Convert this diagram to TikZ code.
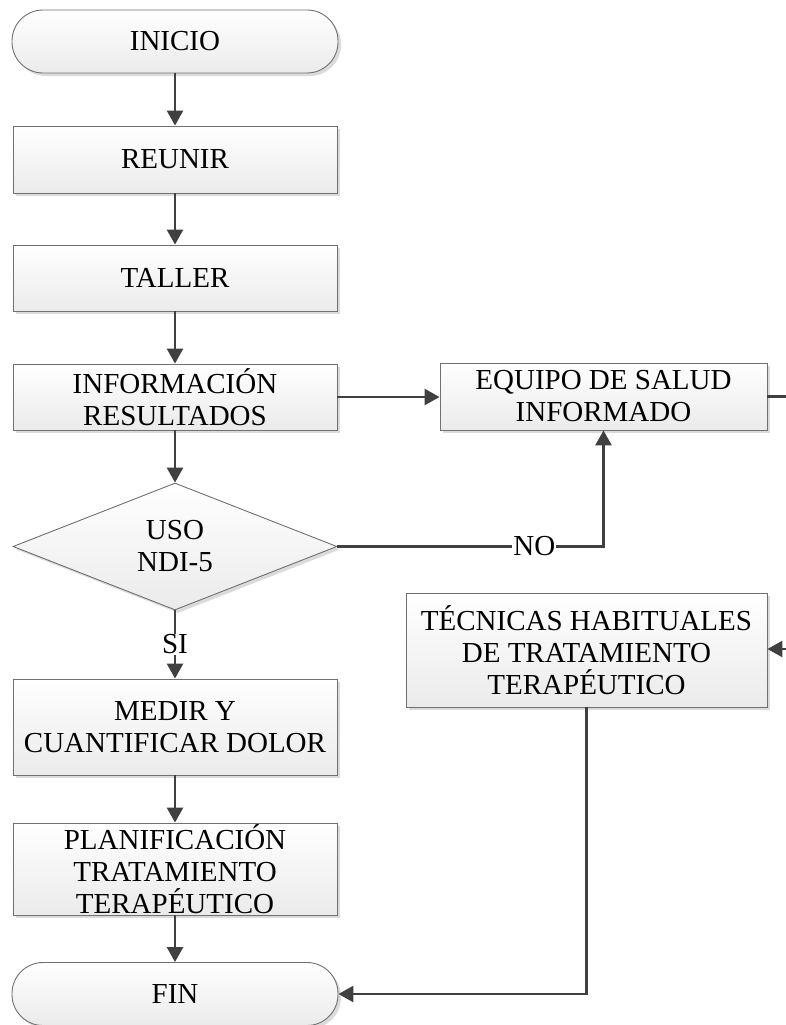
\documentclass[tikz,border=0pt]{standalone}
\usepackage{fontspec}
\setmainfont{Liberation Serif}
\usetikzlibrary{shapes.geometric,arrows.meta,shadows}
\definecolor{linegray}{HTML}{404040}
\definecolor{bordergray}{HTML}{707070}
\begin{document}
\begin{tikzpicture}[x=1pt,y=-1pt,
  base/.style={draw=bordergray, line width=0.9pt, top color=white, bottom color=black!8,
    drop shadow={shadow xshift=3pt, shadow yshift=-3pt, fill=black!14, opacity=1},
    align=center, font=\fontsize{29}{32}\selectfont, inner sep=0pt},
  procbox/.style={base, rectangle, minimum width=324pt},
  termbox/.style={base, rectangle, rounded corners=31pt, minimum width=326pt, minimum height=63pt},
  decbox/.style={base, diamond, aspect=2.55, minimum width=324pt, minimum height=127pt},
  conn/.style={draw=linegray, line width=2.8pt, -{Triangle[length=15pt,width=16pt]}},
  plainconn/.style={draw=linegray, line width=2.8pt},
  lbl/.style={fill=white, inner sep=1pt, font=\fontsize{29}{32}\selectfont}
]
\useasboundingbox (0,0) rectangle (785,1025);
\node[termbox] (ini) at (175,41.5) {INICIO};
\node[procbox, minimum height=67pt] (reu) at (175,159.5) {REUNIR};
\node[procbox, minimum height=66pt] (tal) at (175,278) {TALLER};
\node[procbox, minimum height=66pt] (inf) at (175,397) {INFORMACIÓN\\RESULTADOS};
\node[procbox, minimum width=327pt, minimum height=67pt] (eq) at (603.5,396.5) {EQUIPO DE SALUD\\INFORMADO};
\node[decbox] (uso) at (175,546.5) {USO\\NDI-5};
\node[procbox, minimum width=361pt, minimum height=114pt] (tec) at (586.5,650) {TÉCNICAS HABITUALES\\DE TRATAMIENTO\\TERAPÉUTICO};
\node[procbox, minimum height=96pt] (med) at (175,727) {MEDIR Y\\CUANTIFICAR DOLOR};
\node[procbox, minimum height=92pt] (pla) at (175,869) {PLANIFICACIÓN\\TRATAMIENTO\\TERAPÉUTICO};
\node[termbox] (fin) at (175,994) {FIN};

\coordinate (r1) at (805,396.5);
\coordinate (r2) at (805,649);

\draw[conn] (ini) -- (reu);
\draw[conn] (reu) -- (tal);
\draw[conn] (tal) -- (inf);
\draw[conn] (inf) -- (uso);
\draw[conn] (inf.east) -- (inf.east -| eq.west);
\draw[conn] (uso.east) -- (uso.east -| eq.south) node[lbl, pos=0.74] {NO} -- (eq.south);
\draw[conn] (uso.south) -- node[lbl, pos=0.5] {SI} (med.north);
\draw[conn] (med) -- (pla);
\draw[conn] (pla) -- (fin);
\draw[plainconn] (eq.east) -- (r1) -- (r2);
\draw[conn] (r2) -- (tec.east |- r2);
\draw[conn] (tec.south) |- (fin.east);
\end{tikzpicture}
\end{document}
